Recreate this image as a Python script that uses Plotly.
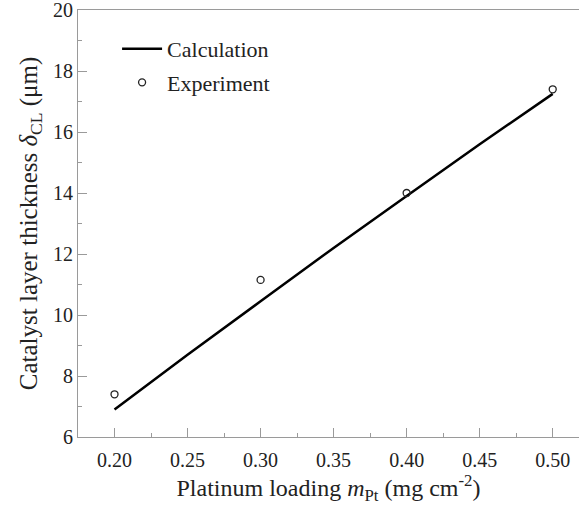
import plotly.graph_objects as go

calc_x = [0.20, 0.25, 0.30, 0.35, 0.40, 0.45, 0.50]
calc_y = [6.9, 8.7, 10.45, 12.2, 13.9, 15.6, 17.25]

exp_x = [0.20, 0.30, 0.40, 0.50]
exp_y = [7.4, 11.15, 14.0, 17.4]

x_ticks = [0.20, 0.25, 0.30, 0.35, 0.40, 0.45, 0.50]
x_tick_text = ["0.20", "0.25", "0.30", "0.35", "0.40", "0.45", "0.50"]
y_ticks = [6, 8, 10, 12, 14, 16, 18, 20]

FONT = "Liberation Serif"
AX = "#9a9a9a"

fig = go.Figure()
fig.add_trace(go.Scatter(x=calc_x, y=calc_y, mode="lines", name="Calculation",
                         legendgroup="a",
                         line=dict(color="black", width=2.5)))
fig.add_trace(go.Scatter(x=exp_x, y=exp_y, mode="markers", name="Experiment",
                         legendgroup="b",
                         marker=dict(symbol="circle-open", size=7, color="#222",
                                     line=dict(width=1.3, color="#222"))))

fig.update_layout(
    width=579, height=513,
    margin=dict(l=78, r=0, t=10, b=76),
    plot_bgcolor="white", paper_bgcolor="white",
    font=dict(family=FONT, size=20, color="#222"),
    showlegend=True,
    legend=dict(x=0.078, y=0.958, xanchor="left", yanchor="top",
                bgcolor="rgba(0,0,0,0)", font=dict(size=22, family=FONT),
                tracegroupgap=2, itemwidth=40),
    xaxis=dict(range=[0.175, 0.518], tickvals=x_ticks, ticktext=x_tick_text,
               ticks="inside", ticklen=9, tickcolor=AX, tickwidth=1,
               showline=True, linecolor=AX, linewidth=1.2, mirror=True,
               showgrid=False, zeroline=False,
               minor=dict(ticks="inside", ticklen=4, tickcolor=AX, dtick=0.025, tick0=0.2, showgrid=False),
               title=dict(text="Platinum loading <i>m</i><sub>Pt</sub> (mg cm<sup>-2</sup>)",
                          font=dict(size=24, family=FONT), standoff=9),
               tickfont=dict(size=20, family=FONT), ticklabeloverflow="allow",
               ticklabelstandoff=5),
    yaxis=dict(range=[6, 20], tickvals=y_ticks,
               ticks="inside", ticklen=9, tickcolor=AX, tickwidth=1,
               showline=True, linecolor=AX, linewidth=1.2, mirror=False,
               showgrid=False, zeroline=False,
               minor=dict(ticks="inside", ticklen=4, tickcolor=AX, dtick=1, tick0=6, showgrid=False),
               title=dict(text="Catalyst layer thickness <i>δ</i><sub>CL</sub> (μm)",
                          font=dict(size=25, family=FONT), standoff=8),
               tickfont=dict(size=20, family=FONT), ticklabeloverflow="allow"),
)

fig.write_html("out.html")
